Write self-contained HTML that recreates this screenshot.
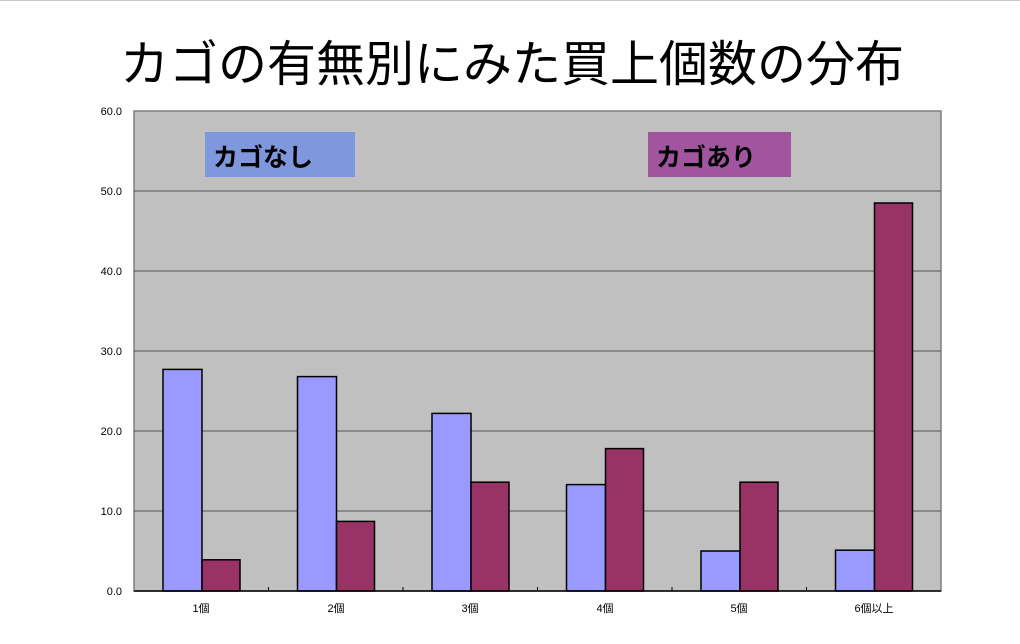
<!DOCTYPE html>
<html><head><meta charset="utf-8"><style>
html,body{margin:0;padding:0;background:#fff;width:1020px;height:644px;overflow:hidden}
text{font-family:"Liberation Sans","Noto Sans CJK JP",sans-serif}
</style></head><body>
<svg width="1020" height="644" xmlns="http://www.w3.org/2000/svg">
<line x1="0" y1="0.5" x2="1020" y2="0.5" stroke="#c8c8c8" stroke-width="1"/>
<text x="512" y="81" text-anchor="middle" font-size="49" fill="#000">カゴの有無別にみた買上個数の分布</text>
<rect x="134" y="111" width="807" height="480" fill="#c0c0c0" stroke="#808080" stroke-width="1.5"/>
<g stroke="#555" stroke-width="1">
<line x1="134" y1="191" x2="941" y2="191"/>
<line x1="134" y1="271" x2="941" y2="271"/>
<line x1="134" y1="351" x2="941" y2="351"/>
<line x1="134" y1="431" x2="941" y2="431"/>
<line x1="134" y1="511" x2="941" y2="511"/>
</g>
<g font-size="11" fill="#000" text-anchor="end">
<text x="122" y="115">60.0</text><text x="122" y="195">50.0</text><text x="122" y="275">40.0</text>
<text x="122" y="355">30.0</text><text x="122" y="435">20.0</text><text x="122" y="515">10.0</text>
<text x="122" y="595">0.0</text>
</g>
<rect x="205" y="132" width="150" height="45" fill="#7f97dc"/>
<text x="213" y="166" font-size="25" font-weight="bold" fill="#000">カゴなし</text>
<rect x="648" y="132" width="143" height="45" fill="#a0559e"/>
<text x="656" y="166" font-size="25" font-weight="bold" fill="#000">カゴあり</text>
<g stroke="#000" stroke-width="1.5">
<rect x="163" y="369.4" width="39" height="221.6" fill="#9999ff"/>
<rect x="202" y="559.8" width="38" height="31.2" fill="#993366"/>
<rect x="297.5" y="376.6" width="39" height="214.4" fill="#9999ff"/>
<rect x="336.5" y="521.4" width="38" height="69.6" fill="#993366"/>
<rect x="432" y="413.4" width="39" height="177.6" fill="#9999ff"/>
<rect x="471" y="482.2" width="38" height="108.8" fill="#993366"/>
<rect x="566.5" y="484.6" width="39" height="106.4" fill="#9999ff"/>
<rect x="605.5" y="448.6" width="38" height="142.4" fill="#993366"/>
<rect x="701" y="551" width="39" height="40" fill="#9999ff"/>
<rect x="740" y="482.2" width="38" height="108.8" fill="#993366"/>
<rect x="835.5" y="550.2" width="39" height="40.8" fill="#9999ff"/>
<rect x="874.5" y="203" width="38" height="388" fill="#993366"/>
</g>
<line x1="134" y1="591" x2="941" y2="591" stroke="#000" stroke-width="1.5"/>
<g stroke="#000" stroke-width="1">
<line x1="268.5" y1="591" x2="268.5" y2="587"/><line x1="403" y1="591" x2="403" y2="587"/>
<line x1="537.5" y1="591" x2="537.5" y2="587"/><line x1="672" y1="591" x2="672" y2="587"/>
<line x1="806.5" y1="591" x2="806.5" y2="587"/>
</g>
<g font-size="11" fill="#000" text-anchor="middle">
<text x="201" y="612">1個</text><text x="336" y="612">2個</text><text x="470" y="612">3個</text>
<text x="605" y="612">4個</text><text x="739" y="612">5個</text><text x="874" y="612">6個以上</text>
</g>
</svg>
</body></html>
